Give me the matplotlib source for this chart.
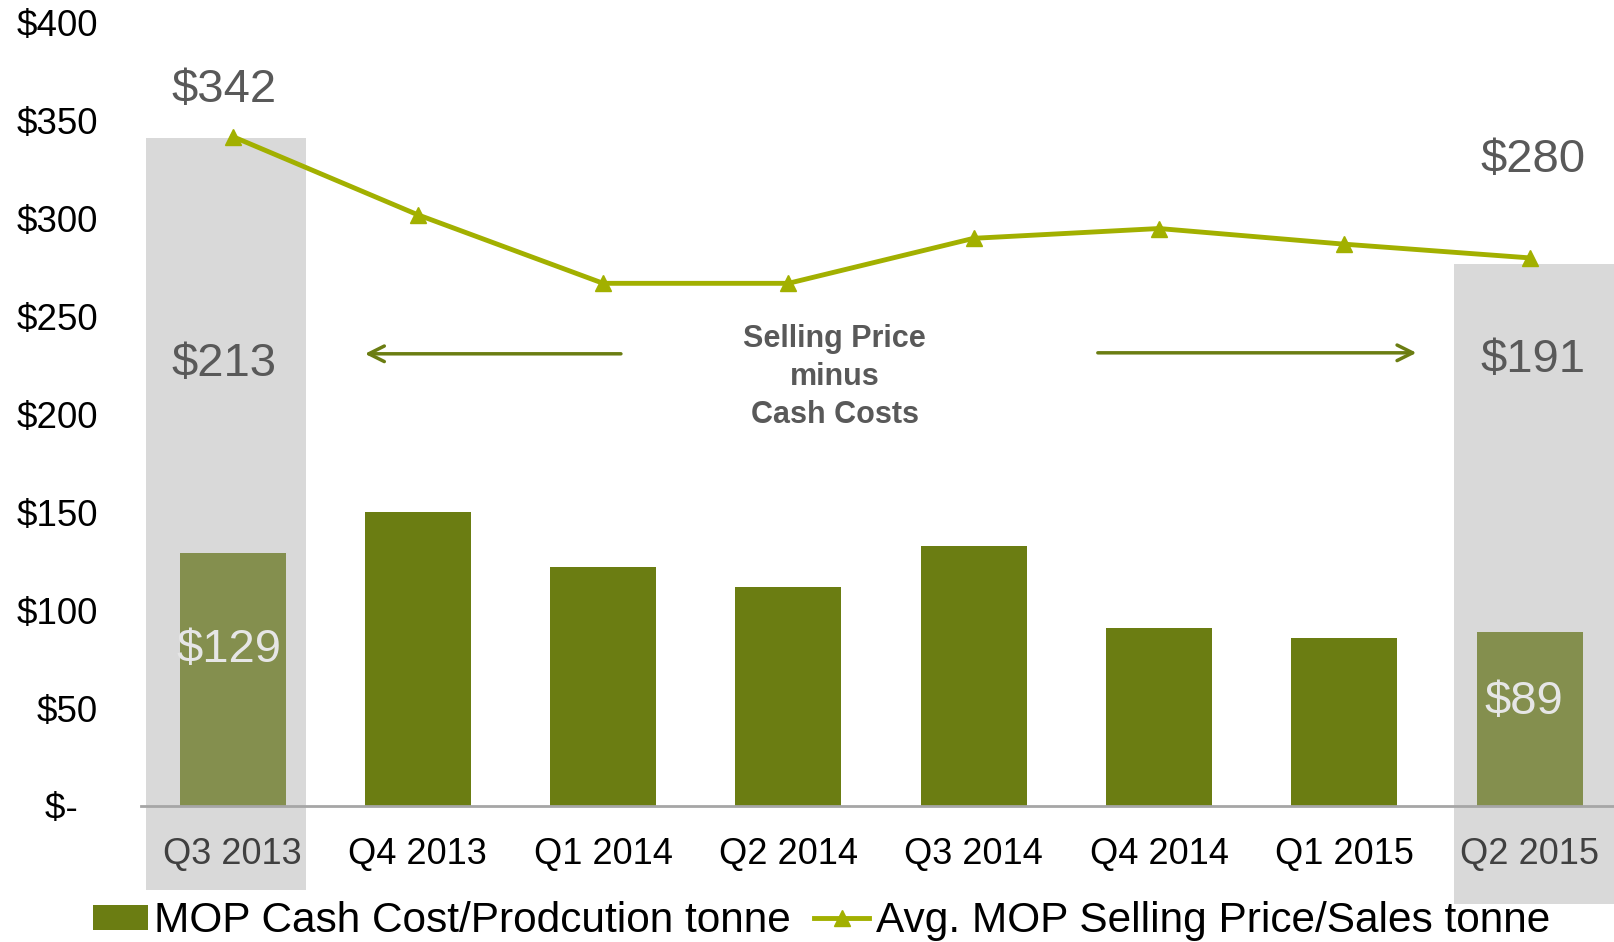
import matplotlib
matplotlib.use("Agg")
import matplotlib.pyplot as plt
from matplotlib.patches import Rectangle
from matplotlib.lines import Line2D
from matplotlib.patches import Patch

plt.rcParams['font.family'] = ['Liberation Sans', 'DejaVu Sans']

quarters = ["Q3 2013", "Q4 2013", "Q1 2014", "Q2 2014", "Q3 2014", "Q4 2014", "Q1 2015", "Q2 2015"]
cash_cost = [129, 150, 122, 112, 133, 91, 86, 89]
selling_price = [342, 302, 267, 267, 290, 295, 287, 280]
y_ticks = [0, 50, 100, 150, 200, 250, 300, 350, 400]
y_tick_labels = ["$-  ", "$50", "$100", "$150", "$200", "$250", "$300", "$350", "$400"]
margin_first = 213
margin_last = 191

BAR = '#6b7d12'
BAR_HI = '#848f4e'
LINE = '#a2b000'
HI_BG = '#d9d9d9'
GRAYTXT = '#595959'

fig = plt.figure(figsize=(16.14, 9.42), dpi=100)
ax = fig.add_axes([0.0874, 0.1444, 0.9126, 0.8312])
ax.set_xlim(-0.494, 7.456)
ax.set_ylim(0, 400)

x = list(range(len(quarters)))
colors = [BAR_HI if i in (0, len(x) - 1) else BAR for i in x]

# highlight backgrounds
ax.add_patch(Rectangle((-0.467, -43), 0.863, 384, facecolor=HI_BG, edgecolor='none',
                       zorder=0, clip_on=False))
ax.add_patch(Rectangle((6.593, -50), 1.0, 327, facecolor=HI_BG, edgecolor='none',
                       zorder=0, clip_on=False))

ax.bar(x, cash_cost, width=0.572, color=colors, zorder=2)
ax.plot(x, selling_price, color=LINE, lw=3.5, marker='^', markersize=11, zorder=3, clip_on=False)

for s in ['top', 'right', 'left']:
    ax.spines[s].set_visible(False)
ax.spines['bottom'].set_color('#a6a6a6')
ax.spines['bottom'].set_linewidth(2)
ax.spines['bottom'].set_zorder(4)

ax.set_yticks(y_ticks)
ax.set_yticklabels(y_tick_labels, fontsize=26.5)
ax.tick_params(axis='y', length=0, pad=31)
ax.set_xticks(x)
ax.set_xticklabels(quarters, fontsize=26)
ax.tick_params(axis='x', length=0, pad=22)
for i, lab in enumerate(ax.get_xticklabels()):
    if i in (0, len(x) - 1):
        lab.set_color('#404040')

# data labels
ax.text(-0.046, 366, f"${selling_price[0]}", fontsize=34, color=GRAYTXT, ha='center', va='center')
ax.text(-0.046, 226, f"${margin_first}", fontsize=34, color=GRAYTXT, ha='center', va='center')
ax.text(-0.02, 79.5, f"${cash_cost[0]}", fontsize=34, color='#e6e6e6', ha='center', va='center', zorder=5)
ax.text(7.02, 330, f"${selling_price[-1]}", fontsize=34, color=GRAYTXT, ha='center', va='center')
ax.text(7.02, 228, f"${margin_last}", fontsize=34, color=GRAYTXT, ha='center', va='center')
ax.text(6.97, 53, f"${cash_cost[-1]}", fontsize=34, color='#e6e6e6', ha='center', va='center', zorder=5)

ax.text(3.25, 219, "Selling Price\nminus\nCash Costs", fontsize=22, fontweight='bold',
        color=GRAYTXT, ha='center', va='center', linespacing=1.35)
arrow_kw = dict(arrowstyle='->', color=BAR, lw=2.5, mutation_scale=28, shrinkA=0, shrinkB=0)
ax.annotate("", xy=(0.714, 231), xytext=(2.096, 231), arrowprops=arrow_kw)
ax.annotate("", xy=(6.39, 231.5), xytext=(4.67, 231.5), arrowprops=arrow_kw)

handles = [Patch(facecolor=BAR, edgecolor='none'),
           Line2D([], [], color=LINE, lw=3.5, marker='^', markersize=11)]
fig.legend(handles, ["MOP Cash Cost/Prodcution tonne", "Avg. MOP Selling Price/Sales tonne"],
           loc='center', bbox_to_anchor=(0.509, 0.022), ncol=2, frameon=False, fontsize=30.5,
           handlelength=1.3, handleheight=0.55, handletextpad=0.15, columnspacing=0.55,
           borderpad=0, borderaxespad=0)

fig.savefig("out.png", dpi=100)
